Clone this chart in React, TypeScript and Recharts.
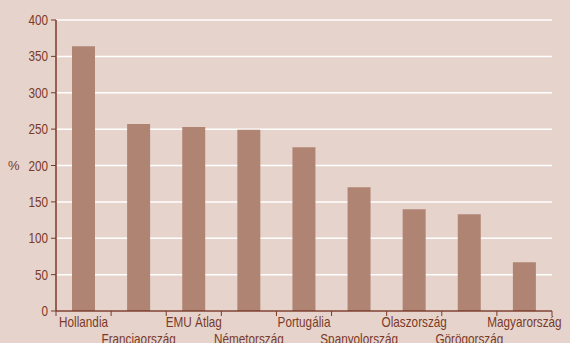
import { Bar, BarChart, CartesianGrid, XAxis, YAxis } from "recharts";

const countries = [
  "Hollandia",
  "Franciaország",
  "EMU Átlag",
  "Németország",
  "Portugália",
  "Spanyolország",
  "Olaszország",
  "Görögország",
  "Magyarország"
];
const values = [364, 257, 253, 249, 225, 170, 140, 133, 67];
const yTicks = [0, 50, 100, 150, 200, 250, 300, 350, 400];

const data = countries.map((name, i) => ({ name, value: values[i] }));

const W = 570;
const H = 343;
const LEFT = 56;
const RIGHT = 18;
const BAND = (W - LEFT - RIGHT) / countries.length;
const INK = "#7a3a29";
const FONT = "'Liberation Sans', Arial, sans-serif";
const SQUEEZE = 0.84;

function CountryTick(props: any) {
  const { x, y, payload, index } = props;
  const second = index % 2 === 1;
  const last = index === countries.length - 1;
  return (
    <g>
      <line x1={x - BAND / 2} x2={x - BAND / 2} y1={y - 8} y2={y - 3} stroke={INK} />
      {last && <line x1={x + BAND / 2} x2={x + BAND / 2} y1={y - 8} y2={y - 3} stroke={INK} />}
      <text
        transform={`translate(${x},${second ? y + 25 : y + 8}) scale(${SQUEEZE},1)`}
        textAnchor="middle"
        fill={INK}
        fontSize={14}
        fontFamily={FONT}
      >
        {payload.value}
      </text>
    </g>
  );
}

function ValueTick(props: any) {
  const { x, y, payload } = props;
  return (
    <text
      transform={`translate(${x},${y + 5}) scale(${SQUEEZE},1)`}
      textAnchor="end"
      fill={INK}
      fontSize={14}
      fontFamily={FONT}
    >
      {payload.value}
    </text>
  );
}

export default function App() {
  return (
    <div style={{ position: "absolute", left: 0, top: 0, width: W, height: H, background: "#e6d4cc" }}>
      <BarChart width={W} height={H} data={data} margin={{ top: 20, right: RIGHT, bottom: 0, left: 0 }}>
        <CartesianGrid horizontal vertical={false} stroke="#ffffff" strokeWidth={1.5} />
        <XAxis
          dataKey="name"
          interval={0}
          height={32}
          tickLine={false}
          axisLine={{ stroke: INK, strokeWidth: 1.5 }}
          tick={<CountryTick />}
        />
        <YAxis
          width={LEFT}
          domain={[0, 400]}
          ticks={yTicks}
          interval={0}
          tickSize={5}
          tickMargin={3}
          tickLine={{ stroke: INK }}
          axisLine={{ stroke: INK, strokeWidth: 1.5 }}
          tick={<ValueTick />}
          label={{ value: "%", position: "insideLeft", offset: 8, fill: INK, fontSize: 13, fontFamily: FONT }}
        />
        <Bar dataKey="value" fill="#b08473" barSize={23} isAnimationActive={false} />
      </BarChart>
    </div>
  );
}
